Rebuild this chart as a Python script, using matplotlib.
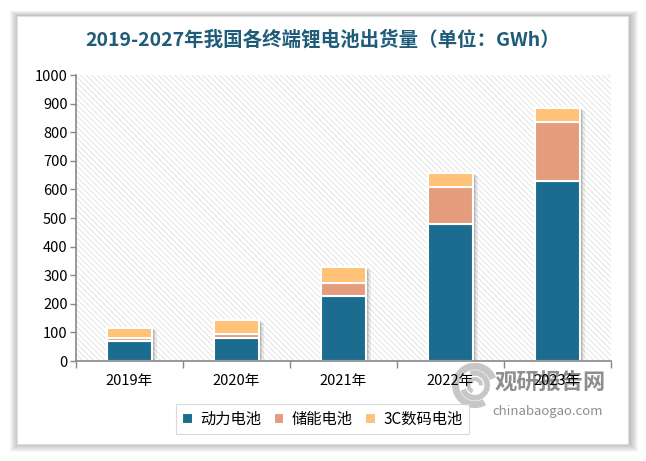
import matplotlib
matplotlib.use("Agg")
import matplotlib.pyplot as plt
import matplotlib.patheffects as pe
from matplotlib.patches import Rectangle, Arc
import numpy as np

plt.rcParams['font.family'] = ['Noto Sans CJK SC', 'DejaVu Sans']
plt.rcParams['hatch.linewidth'] = 0.45
plt.rcParams['hatch.color'] = '#d6d6d6'

# data (GWh)
years = ['2019年', '2020年', '2021年', '2022年', '2023年']
power = [71, 80, 226, 480, 630]
storage = [9.5, 16, 48, 130, 206]
digital = [36, 46, 53, 47, 48]
series_names = ['动力电池', '储能电池', '3C数码电池']
colors = ['#1b6c8f', '#e59c7c', '#ffc276']

fig = plt.figure(figsize=(6.46, 4.61), dpi=100)
fig.patch.set_facecolor('white')

# outer frame with a soft shadow
fl, fb, fw, fh = 0.0263, 0.0369, 0.9457, 0.928
for i in range(8, 0, -1):
    d = i * 0.0022
    fig.patches.append(Rectangle((fl - d * 0.7 + 0.002, fb - d + 0.001), fw + d * 1.4 + 0.002, fh + d * 1.6,
                                 transform=fig.transFigure, facecolor='#000000', alpha=0.03,
                                 edgecolor='none', zorder=0))
fig.patches.append(Rectangle((fl, fb), fw, fh, transform=fig.transFigure,
                             facecolor='white', edgecolor='#e0e0e0', lw=0.8, zorder=1))

# watermark (drawn under the axes so the tick labels sit on top)
wm = fig.add_axes([0.70, 0.115, 0.07, 0.098])
wm.set_zorder(1.5)
wm.set_xlim(-1, 1)
wm.set_ylim(-1, 1)
wm.set_aspect('equal')
wm.axis('off')
for r, t1, t2, lw in [(0.85, 20, 300, 5), (0.55, 200, 470, 4), (0.28, 0, 250, 3)]:
    wm.add_patch(Arc((0, 0), 2 * r, 2 * r, theta1=t1, theta2=t2, color='#b0b0b0', lw=lw, alpha=0.7))
fig.text(0.852, 0.169, '观研报告网', ha='center', va='center', fontsize=16, fontweight='heavy',
         color='#7a7a7a', alpha=0.85, zorder=1.5)
fig.text(0.848, 0.108, 'chinabaogao.com', ha='center', va='center', fontsize=9.5,
         color='#7a7a7a', alpha=0.85, zorder=1.5)

ax = fig.add_axes([0.1176, 0.2169, 0.8282, 0.6204])
ax.set_zorder(2)
ax.set_facecolor('none')

# hatched plot background
ax.add_patch(Rectangle((0, 0), 1, 1, transform=ax.transAxes, facecolor='white',
                       edgecolor='#d6d6d6', hatch='\\\\\\\\\\\\', lw=0, zorder=0))

x = np.arange(len(years))
w = 0.42
totals = np.array(power) + np.array(storage) + np.array(digital)

# bar shadow (soft, to the right)
for off, a in [(3.5, 0.07), (2.5, 0.1), (1.5, 0.12)]:
    ax.bar(x, totals, w, color='white', zorder=1,
           path_effects=[pe.SimplePatchShadow(offset=(off, -off * 0.5), shadow_rgbFace='#000000', alpha=a)])

bottom = np.zeros(len(years))
for vals, name, c in zip([power, storage, digital], series_names, colors):
    ax.bar(x, vals, w, bottom=bottom, color=c, edgecolor='white', lw=1.5, label=name, zorder=2)
    bottom += np.array(vals)

ax.set_xlim(-0.5, len(years) - 0.5)
ax.set_ylim(0, 1000)
ax.set_yticks(np.arange(0, 1001, 100))
ax.set_xticks(x)
ax.set_xticklabels(years, fontsize=10.5)
ax.set_xticks(np.arange(-0.5, len(years), 1), minor=True)
ax.tick_params(axis='x', which='major', length=0, pad=9)
ax.tick_params(axis='x', which='minor', length=5, color='#888888', width=1)
ax.tick_params(axis='y', length=4, color='#888888', width=1, labelsize=10.5, pad=2)

for s in ['top', 'right']:
    ax.spines[s].set_visible(False)
for s in ['left', 'bottom']:
    ax.spines[s].set_color('#888888')
    ax.spines[s].set_linewidth(1.2)

fig.text(0.499, 0.913, '2019-2027年我国各终端锂电池出货量（单位：GWh）', ha='center', va='center',
         fontsize=14, fontweight='bold', color='#1f5c7a', zorder=3)

leg = fig.legend(loc='center', bbox_to_anchor=(0.499, 0.091), ncol=3, fontsize=11,
                 frameon=True, fancybox=False, edgecolor='#d0d0d0', handlelength=0.7,
                 handleheight=0.7, handletextpad=0.5, columnspacing=0.8, borderpad=0.4)
leg.get_frame().set_linewidth(0.8)
leg.set_zorder(3)

fig.savefig('out.png', dpi=100, facecolor='white')
